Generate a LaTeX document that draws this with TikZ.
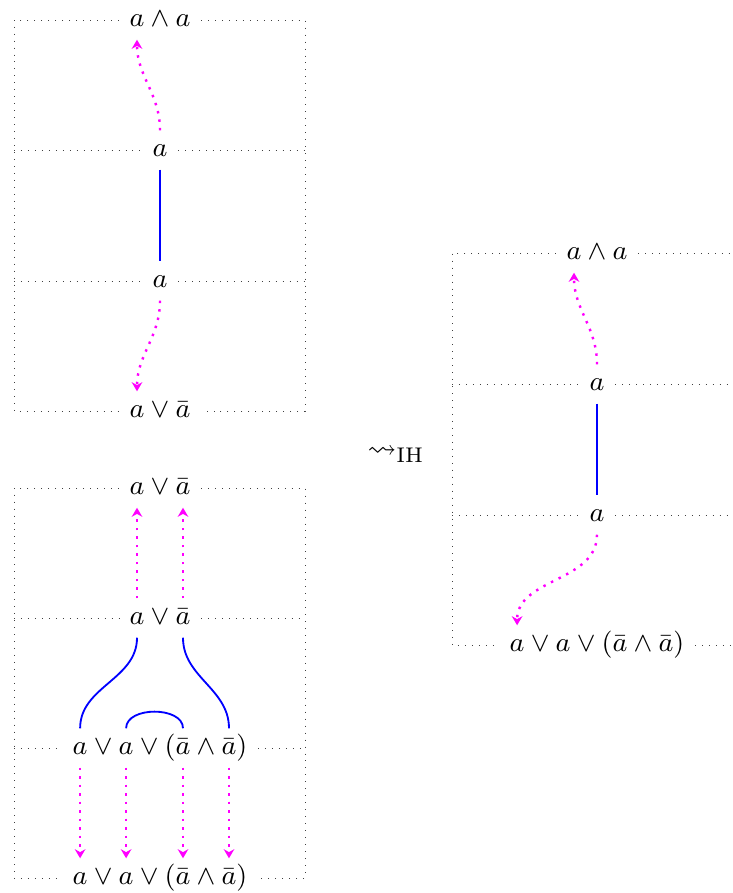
\documentclass[tikz,border=0pt]{standalone}
\usepackage{amssymb}
\usetikzlibrary{arrows.meta,matrix}

\definecolor{hopcolor}{RGB}{255,0,255}
\definecolor{linkcolor}{RGB}{0,0,255}

\tikzset{
  formula/.style={matrix of math nodes, column sep=0pt, inner sep=0.3333em, anchor=center,
    nodes={inner xsep=0pt, inner ysep=2pt, text height=1.5ex, text depth=0.5ex,
      font=\fontsize{9.5pt}{11pt}\selectfont}},
  frame/.style={dotted, line width=0.3pt, black!75},
  link/.style={linkcolor, semithick},
  flow/.style={hopcolor, dotted, thick, -{Stealth[length=3pt,width=3.5pt]}}
}

\begin{document}
\begin{tikzpicture}[x=0.33pt, y=-0.33pt]
  \useasboundingbox (0,0) rectangle (732,893);

  % top left derivation
  \matrix (tlA) [formula] at (160,20)  {a & {}\wedge{} & a \\};
  \matrix (tlB) [formula] at (160,150) {a \\};
  \matrix (tlC) [formula] at (160,281) {a \\};
  \matrix (tlD) [formula] at (160,411) {a & {}\vee{} & \bar a \\};
  \draw[frame] (tlA.east) -- (305,20) -- (305,411) -- (tlD.east);
  \draw[frame] (tlA.west) -- (14,20) -- (14,411) -- (tlD.west);
  \draw[frame] (14,150) -- (tlB.west);
  \draw[frame] (tlB.east) -- (305,150);
  \draw[frame] (14,281) -- (tlC.west);
  \draw[frame] (tlC.east) -- (305,281);
  \draw[flow] (tlB-1-1.north) to[out=90,in=-90] (tlA-1-1.south);
  \draw[link] (tlB-1-1.south) -- (tlC-1-1.north);
  \draw[flow] (tlC-1-1.south) to[out=-90,in=90] (tlD-1-1.north);

  % bottom left derivation
  \matrix (blA) [formula] at (160,488) {a & {}\vee{} & \bar a \\};
  \matrix (blB) [formula] at (160,618) {a & {}\vee{} & \bar a \\};
  \matrix (blC) [formula] at (160,748) {a & {}\vee{} & a & {}\vee{} & ( & \bar a & {}\wedge{} & \bar a & ) \\};
  \matrix (blD) [formula] at (160,878) {a & {}\vee{} & a & {}\vee{} & ( & \bar a & {}\wedge{} & \bar a & ) \\};
  \draw[frame] (blA.east) -- (305,488) -- (305,878) -- (blD.east);
  \draw[frame] (blA.west) -- (14,488) -- (14,878) -- (blD.west);
  \draw[frame] (14,618) -- (blB.west);
  \draw[frame] (blB.east) -- (305,618);
  \draw[frame] (14,748) -- (blC.west);
  \draw[frame] (blC.east) -- (305,748);
  \draw[flow] (blB-1-1.north) -- (blA-1-1.south);
  \draw[flow] (blB-1-3.north) -- (blA-1-3.south);
  \draw[link] (blB-1-1.south) to[out=-90,in=90] (blC-1-1.north);
  \draw[link] (blB-1-3.south) to[out=-90,in=90] (blC-1-8.north);
  \draw[link] (blC-1-3.north) to[out=90,in=90] (blC-1-6.north);
  \foreach \i in {1,3,6,8}
    \draw[flow] (blC-1-\i.south) -- (blD-1-\i.north);

  % induction step
  \node (ih) [font=\fontsize{9.5pt}{11pt}\selectfont] at (396,455) {$\leadsto_{\mathrm{IH}}$};

  % right derivation
  \matrix (rA) [formula] at (597,253) {a & {}\wedge{} & a \\};
  \matrix (rB) [formula] at (597,384) {a \\};
  \matrix (rC) [formula] at (597,515) {a \\};
  \matrix (rD) [formula] at (597,645) {a & {}\vee{} & a & {}\vee{} & ( & \bar a & {}\wedge{} & \bar a & ) \\};
  \draw[frame] (rA.east) -- (732,253);
  \draw[frame] (rA.west) -- (452,253) -- (452,645) -- (rD.west);
  \draw[frame] (rD.east) -- (732,645);
  \draw[frame] (452,384) -- (rB.west);
  \draw[frame] (rB.east) -- (732,384);
  \draw[frame] (452,515) -- (rC.west);
  \draw[frame] (rC.east) -- (732,515);
  \draw[flow] (rB-1-1.north) to[out=90,in=-90] (rA-1-1.south);
  \draw[link] (rB-1-1.south) -- (rC-1-1.north);
  \draw[flow] (rC-1-1.south) to[out=-90,in=90] (rD-1-1.north);
\end{tikzpicture}
\end{document}
